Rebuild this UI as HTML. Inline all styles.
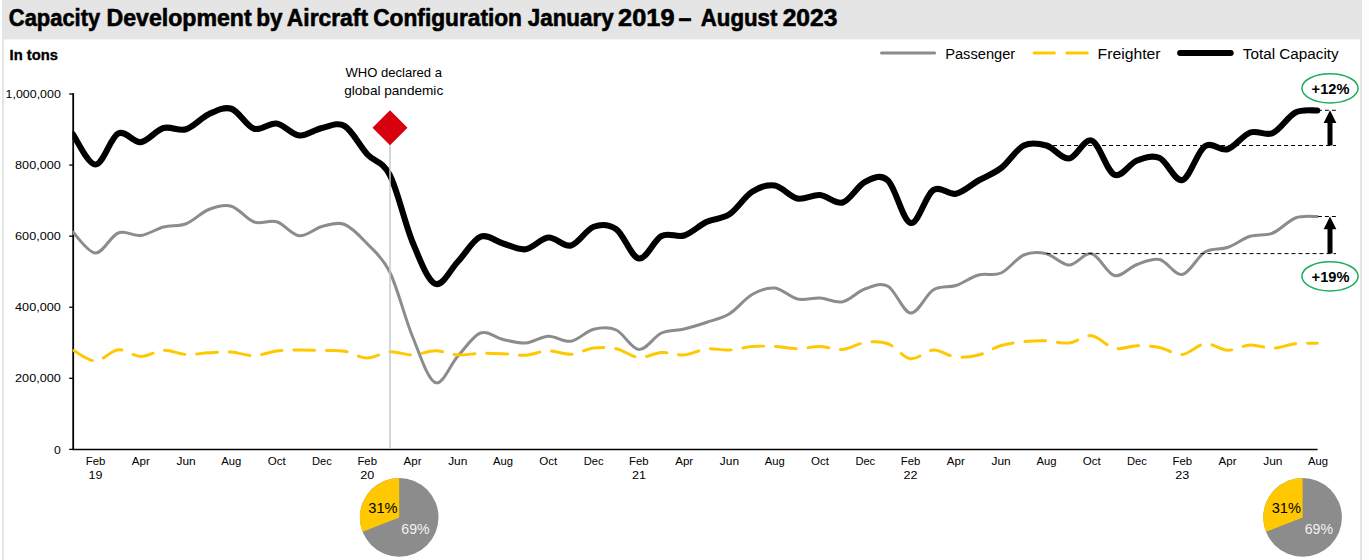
<!DOCTYPE html>
<html lang="en"><head><meta charset="utf-8">
<title>Capacity Development by Aircraft Configuration</title>
<style>
html,body{margin:0;padding:0;background:#fff;}
body{width:1369px;height:560px;overflow:hidden;font-family:"Liberation Sans", sans-serif;}
svg{display:block;}
text{font-family:"Liberation Sans", sans-serif;}
.ax{font-size:11.2px;fill:#000;}
.lg{font-size:14px;fill:#000;}
</style></head><body>
<svg width="1369" height="560" viewBox="0 0 1369 560">
<rect x="0" y="0" width="1369" height="560" fill="#ffffff"/>
<rect x="1362" y="0" width="7" height="560" fill="#fdfdfd"/>
<rect x="2" y="0" width="1360" height="39.4" fill="#e5e5e5"/>
<rect x="2" y="39" width="2" height="521" fill="#e5e5e5"/>
<rect x="1360" y="39" width="2" height="521" fill="#e5e5e5"/>
<g font-size="23.3px" font-weight="bold" fill="#000" stroke="#000" stroke-width="0.6" stroke-linejoin="round">
<text x="8.8" y="25.8" textLength="91.4" lengthAdjust="spacingAndGlyphs">Capacity</text>
<text x="106.5" y="25.8" textLength="145.2" lengthAdjust="spacingAndGlyphs">Development</text>
<text x="256.2" y="25.8" textLength="26.4" lengthAdjust="spacingAndGlyphs">by</text>
<text x="286.8" y="25.8" textLength="81.2" lengthAdjust="spacingAndGlyphs">Aircraft</text>
<text x="373.2" y="25.8" textLength="148.8" lengthAdjust="spacingAndGlyphs">Configuration</text>
<text x="527.7" y="25.8" textLength="86.0" lengthAdjust="spacingAndGlyphs">January</text>
<text x="618.1" y="25.8" textLength="56.4" lengthAdjust="spacingAndGlyphs">2019</text>
<text x="678.6" y="25.8" textLength="13.0" lengthAdjust="spacingAndGlyphs">–</text>
<text x="700.8" y="25.8" textLength="76.6" lengthAdjust="spacingAndGlyphs">August</text>
<text x="782.7" y="25.8" textLength="54.7" lengthAdjust="spacingAndGlyphs">2023</text>
</g>
<text x="9.6" y="59.9" font-size="15px" font-weight="bold" stroke="#000" stroke-width="0.35" textLength="48.4" lengthAdjust="spacingAndGlyphs">In tons</text>
<line x1="881.5" y1="52.9" x2="934.6" y2="52.9" stroke="#8c8c8c" stroke-width="3" stroke-linecap="round"/>
<text class="lg" x="945.2" y="58.8" textLength="70" lengthAdjust="spacingAndGlyphs">Passenger</text>
<line x1="1034" y1="52.9" x2="1054.4" y2="52.9" stroke="#ffc800" stroke-width="3" stroke-linecap="round"/>
<line x1="1066.9" y1="52.9" x2="1087.3" y2="52.9" stroke="#ffc800" stroke-width="3" stroke-linecap="round"/>
<text class="lg" x="1097.6" y="58.8" textLength="63" lengthAdjust="spacingAndGlyphs">Freighter</text>
<line x1="1180.1" y1="53.1" x2="1230.7" y2="53.1" stroke="#000" stroke-width="6" stroke-linecap="round"/>
<text class="lg" x="1242.8" y="58.8" textLength="95.9" lengthAdjust="spacingAndGlyphs">Total Capacity</text>
<text x="393.7" y="76.8" font-size="13px" text-anchor="middle" textLength="96.6" lengthAdjust="spacingAndGlyphs">WHO declared a</text>
<text x="393.7" y="94.6" font-size="13px" text-anchor="middle" textLength="99" lengthAdjust="spacingAndGlyphs">global pandemic</text>
<line x1="69.2" y1="94.00" x2="73.3" y2="94.00" stroke="#000" stroke-width="1.3"/>
<text class="ax" x="60.8" y="98.10" text-anchor="end" textLength="55.2" lengthAdjust="spacingAndGlyphs">1,000,000</text>
<line x1="69.2" y1="165.08" x2="73.3" y2="165.08" stroke="#000" stroke-width="1.3"/>
<text class="ax" x="60.8" y="169.18" text-anchor="end" textLength="45.7" lengthAdjust="spacingAndGlyphs">800,000</text>
<line x1="69.2" y1="236.16" x2="73.3" y2="236.16" stroke="#000" stroke-width="1.3"/>
<text class="ax" x="60.8" y="240.26" text-anchor="end" textLength="45.7" lengthAdjust="spacingAndGlyphs">600,000</text>
<line x1="69.2" y1="307.24" x2="73.3" y2="307.24" stroke="#000" stroke-width="1.3"/>
<text class="ax" x="60.8" y="311.34" text-anchor="end" textLength="45.7" lengthAdjust="spacingAndGlyphs">400,000</text>
<line x1="69.2" y1="378.32" x2="73.3" y2="378.32" stroke="#000" stroke-width="1.3"/>
<text class="ax" x="60.8" y="382.42" text-anchor="end" textLength="45.7" lengthAdjust="spacingAndGlyphs">200,000</text>
<line x1="69.2" y1="449.40" x2="73.3" y2="449.40" stroke="#000" stroke-width="1.3"/>
<text class="ax" x="60.8" y="453.50" text-anchor="end" textLength="6.8" lengthAdjust="spacingAndGlyphs">0</text>
<line x1="73.2" y1="93.3" x2="73.2" y2="450.1" stroke="#000" stroke-width="1.8"/>
<line x1="72.3" y1="449.4" x2="1317.6" y2="449.4" stroke="#000" stroke-width="1.45"/>
<text class="ax" x="95.54" y="465.3" text-anchor="middle" textLength="19.6" lengthAdjust="spacingAndGlyphs">Feb</text>
<text class="ax" x="95.54" y="478.9" text-anchor="middle" textLength="14" lengthAdjust="spacingAndGlyphs">19</text>
<text class="ax" x="140.82" y="465.3" text-anchor="middle" textLength="18.0" lengthAdjust="spacingAndGlyphs">Apr</text>
<text class="ax" x="186.10" y="465.3" text-anchor="middle" textLength="19.2" lengthAdjust="spacingAndGlyphs">Jun</text>
<text class="ax" x="231.38" y="465.3" text-anchor="middle" textLength="20.0" lengthAdjust="spacingAndGlyphs">Aug</text>
<text class="ax" x="276.66" y="465.3" text-anchor="middle" textLength="18.0" lengthAdjust="spacingAndGlyphs">Oct</text>
<text class="ax" x="321.94" y="465.3" text-anchor="middle" textLength="19.8" lengthAdjust="spacingAndGlyphs">Dec</text>
<text class="ax" x="367.22" y="465.3" text-anchor="middle" textLength="19.6" lengthAdjust="spacingAndGlyphs">Feb</text>
<text class="ax" x="367.22" y="478.9" text-anchor="middle" textLength="14" lengthAdjust="spacingAndGlyphs">20</text>
<text class="ax" x="412.50" y="465.3" text-anchor="middle" textLength="18.0" lengthAdjust="spacingAndGlyphs">Apr</text>
<text class="ax" x="457.78" y="465.3" text-anchor="middle" textLength="19.2" lengthAdjust="spacingAndGlyphs">Jun</text>
<text class="ax" x="503.06" y="465.3" text-anchor="middle" textLength="20.0" lengthAdjust="spacingAndGlyphs">Aug</text>
<text class="ax" x="548.34" y="465.3" text-anchor="middle" textLength="18.0" lengthAdjust="spacingAndGlyphs">Oct</text>
<text class="ax" x="593.62" y="465.3" text-anchor="middle" textLength="19.8" lengthAdjust="spacingAndGlyphs">Dec</text>
<text class="ax" x="638.90" y="465.3" text-anchor="middle" textLength="19.6" lengthAdjust="spacingAndGlyphs">Feb</text>
<text class="ax" x="638.90" y="478.9" text-anchor="middle" textLength="14" lengthAdjust="spacingAndGlyphs">21</text>
<text class="ax" x="684.18" y="465.3" text-anchor="middle" textLength="18.0" lengthAdjust="spacingAndGlyphs">Apr</text>
<text class="ax" x="729.46" y="465.3" text-anchor="middle" textLength="19.2" lengthAdjust="spacingAndGlyphs">Jun</text>
<text class="ax" x="774.74" y="465.3" text-anchor="middle" textLength="20.0" lengthAdjust="spacingAndGlyphs">Aug</text>
<text class="ax" x="820.02" y="465.3" text-anchor="middle" textLength="18.0" lengthAdjust="spacingAndGlyphs">Oct</text>
<text class="ax" x="865.30" y="465.3" text-anchor="middle" textLength="19.8" lengthAdjust="spacingAndGlyphs">Dec</text>
<text class="ax" x="910.58" y="465.3" text-anchor="middle" textLength="19.6" lengthAdjust="spacingAndGlyphs">Feb</text>
<text class="ax" x="910.58" y="478.9" text-anchor="middle" textLength="14" lengthAdjust="spacingAndGlyphs">22</text>
<text class="ax" x="955.86" y="465.3" text-anchor="middle" textLength="18.0" lengthAdjust="spacingAndGlyphs">Apr</text>
<text class="ax" x="1001.14" y="465.3" text-anchor="middle" textLength="19.2" lengthAdjust="spacingAndGlyphs">Jun</text>
<text class="ax" x="1046.42" y="465.3" text-anchor="middle" textLength="20.0" lengthAdjust="spacingAndGlyphs">Aug</text>
<text class="ax" x="1091.70" y="465.3" text-anchor="middle" textLength="18.0" lengthAdjust="spacingAndGlyphs">Oct</text>
<text class="ax" x="1136.98" y="465.3" text-anchor="middle" textLength="19.8" lengthAdjust="spacingAndGlyphs">Dec</text>
<text class="ax" x="1182.26" y="465.3" text-anchor="middle" textLength="19.6" lengthAdjust="spacingAndGlyphs">Feb</text>
<text class="ax" x="1182.26" y="478.9" text-anchor="middle" textLength="14" lengthAdjust="spacingAndGlyphs">23</text>
<text class="ax" x="1227.54" y="465.3" text-anchor="middle" textLength="18.0" lengthAdjust="spacingAndGlyphs">Apr</text>
<text class="ax" x="1272.82" y="465.3" text-anchor="middle" textLength="19.2" lengthAdjust="spacingAndGlyphs">Jun</text>
<text class="ax" x="1318.10" y="465.3" text-anchor="middle" textLength="20.0" lengthAdjust="spacingAndGlyphs">Aug</text>
<clipPath id="plot"><rect x="72.4" y="60" width="1260" height="389"/></clipPath>
<g clip-path="url(#plot)">
<path d="M72.90 232.00 C76.67 235.50 87.99 252.83 95.54 253.00 C103.09 253.17 110.63 235.92 118.18 233.00 C125.73 230.08 133.27 236.50 140.82 235.50 C148.37 234.50 155.91 228.96 163.46 227.00 C171.01 225.04 178.55 226.67 186.10 223.75 C193.65 220.83 201.19 212.42 208.74 209.50 C216.29 206.58 223.83 204.17 231.38 206.25 C238.93 208.33 246.47 219.42 254.02 222.00 C261.57 224.58 269.11 219.46 276.66 221.75 C284.21 224.04 291.75 234.96 299.30 235.75 C306.85 236.54 314.39 228.38 321.94 226.50 C329.49 224.62 337.03 221.62 344.58 224.50 C352.13 227.38 359.67 235.79 367.22 243.75 C374.77 251.71 382.31 256.79 389.86 272.25 C397.41 287.71 404.95 318.12 412.50 336.50 C420.05 354.88 427.59 379.21 435.14 382.50 C442.69 385.79 450.23 364.50 457.78 356.25 C465.33 348.00 472.87 335.79 480.42 333.00 C487.97 330.21 495.51 337.83 503.06 339.50 C510.61 341.17 518.15 343.54 525.70 343.00 C533.25 342.46 540.79 336.54 548.34 336.25 C555.89 335.96 563.43 342.42 570.98 341.25 C578.53 340.08 586.07 331.12 593.62 329.25 C601.17 327.38 608.71 326.62 616.26 330.00 C623.81 333.38 631.35 349.00 638.90 349.50 C646.45 350.00 653.99 336.42 661.54 333.00 C669.09 329.58 676.63 330.79 684.18 329.00 C691.73 327.21 699.27 324.79 706.82 322.25 C714.37 319.71 721.91 318.38 729.46 313.75 C737.01 309.12 744.55 298.79 752.10 294.50 C759.65 290.21 767.19 287.25 774.74 288.00 C782.29 288.75 789.83 297.33 797.38 299.00 C804.93 300.67 812.47 297.54 820.02 298.00 C827.57 298.46 835.11 303.29 842.66 301.75 C850.21 300.21 857.75 291.33 865.30 288.75 C872.85 286.17 880.39 282.21 887.94 286.25 C895.49 290.29 903.03 312.38 910.58 313.00 C918.13 313.62 925.67 294.58 933.22 290.00 C940.77 285.42 948.31 288.00 955.86 285.50 C963.41 283.00 970.95 277.08 978.50 275.00 C986.05 272.92 993.59 276.33 1001.14 273.00 C1008.69 269.67 1016.23 258.21 1023.78 255.00 C1031.33 251.79 1038.87 252.08 1046.42 253.75 C1053.97 255.42 1061.51 265.00 1069.06 265.00 C1076.61 265.00 1084.15 252.00 1091.70 253.75 C1099.25 255.50 1106.79 273.71 1114.34 275.50 C1121.89 277.29 1129.43 267.17 1136.98 264.50 C1144.53 261.83 1152.07 257.83 1159.62 259.50 C1167.17 261.17 1174.71 275.75 1182.26 274.50 C1189.81 273.25 1197.35 256.50 1204.90 252.00 C1212.45 247.50 1219.99 250.12 1227.54 247.50 C1235.09 244.88 1242.63 238.67 1250.18 236.25 C1257.73 233.83 1265.27 236.04 1272.82 233.00 C1280.37 229.96 1288.06 220.75 1295.46 218.00 C1302.86 215.25 1313.58 216.75 1317.20 216.50" fill="none" stroke="#8c8c8c" stroke-width="3" stroke-linecap="round" stroke-linejoin="round"/>
<path d="M72.90 350.00 C76.67 351.83 87.99 361.04 95.54 361.00 C103.09 360.96 110.63 350.50 118.18 349.75 C125.73 349.00 133.27 356.42 140.82 356.50 C148.37 356.58 155.91 350.58 163.46 350.25 C171.01 349.92 178.55 354.08 186.10 354.50 C193.65 354.92 201.19 353.17 208.74 352.75 C216.29 352.33 223.83 351.50 231.38 352.00 C238.93 352.50 246.47 355.92 254.02 355.75 C261.57 355.58 269.11 351.96 276.66 351.00 C284.21 350.04 291.75 350.08 299.30 350.00 C306.85 349.92 314.39 350.29 321.94 350.50 C329.49 350.71 337.03 350.00 344.58 351.25 C352.13 352.50 359.67 357.92 367.22 358.00 C374.77 358.08 382.31 352.25 389.86 351.75 C397.41 351.25 404.95 355.17 412.50 355.00 C420.05 354.83 427.59 350.75 435.14 350.75 C442.69 350.75 450.23 354.58 457.78 355.00 C465.33 355.42 472.87 353.46 480.42 353.25 C487.97 353.04 495.51 353.42 503.06 353.75 C510.61 354.08 518.15 355.75 525.70 355.25 C533.25 354.75 540.79 350.92 548.34 350.75 C555.89 350.58 563.43 354.71 570.98 354.25 C578.53 353.79 586.07 348.92 593.62 348.00 C601.17 347.08 608.71 347.17 616.26 348.75 C623.81 350.33 631.35 356.88 638.90 357.50 C646.45 358.12 653.99 352.92 661.54 352.50 C669.09 352.08 676.63 355.60 684.18 355.00 C691.73 354.40 699.27 349.73 706.82 348.90 C714.37 348.07 721.91 350.40 729.46 350.00 C737.01 349.60 744.55 347.08 752.10 346.50 C759.65 345.92 767.19 346.12 774.74 346.50 C782.29 346.88 789.83 348.75 797.38 348.75 C804.93 348.75 812.47 346.38 820.02 346.50 C827.57 346.62 835.11 350.17 842.66 349.50 C850.21 348.83 857.75 343.46 865.30 342.50 C872.85 341.54 880.39 341.04 887.94 343.75 C895.49 346.46 903.03 357.71 910.58 358.75 C918.13 359.79 925.67 350.29 933.22 350.00 C940.77 349.71 948.31 356.17 955.86 357.00 C963.41 357.83 970.95 356.92 978.50 355.00 C986.05 353.08 993.59 347.73 1001.14 345.50 C1008.69 343.27 1016.23 342.39 1023.78 341.60 C1031.33 340.81 1038.87 340.52 1046.42 340.75 C1053.97 340.98 1061.51 343.83 1069.06 343.00 C1076.61 342.17 1084.15 334.88 1091.70 335.75 C1099.25 336.62 1106.79 346.58 1114.34 348.25 C1121.89 349.92 1129.43 345.88 1136.98 345.75 C1144.53 345.62 1152.07 346.04 1159.62 347.50 C1167.17 348.96 1174.71 355.12 1182.26 354.50 C1189.81 353.88 1197.35 344.46 1204.90 343.75 C1212.45 343.04 1219.99 350.04 1227.54 350.25 C1235.09 350.46 1242.63 345.33 1250.18 345.00 C1257.73 344.67 1265.27 348.46 1272.82 348.25 C1280.37 348.04 1288.06 344.58 1295.46 343.75 C1302.86 342.92 1313.58 343.33 1317.20 343.25" fill="none" stroke="#ffc800" stroke-width="2.97" stroke-linecap="round" stroke-linejoin="round" stroke-dasharray="20.8 11.9" stroke-dashoffset="-1.3"/>
<path d="M72.90 134.25 C76.67 139.29 87.99 164.62 95.54 164.50 C103.09 164.38 110.63 137.22 118.18 133.50 C125.73 129.78 133.27 143.07 140.82 142.15 C148.37 141.23 155.91 130.15 163.46 128.00 C171.01 125.85 178.55 131.54 186.10 129.25 C193.65 126.96 201.19 117.67 208.74 114.25 C216.29 110.83 223.83 106.33 231.38 108.75 C238.93 111.17 246.47 126.29 254.02 128.75 C261.57 131.21 269.11 122.38 276.66 123.50 C284.21 124.62 291.75 134.75 299.30 135.50 C306.85 136.25 314.39 129.58 321.94 128.00 C329.49 126.42 337.03 121.62 344.58 126.00 C352.13 130.38 359.67 146.07 367.22 154.25 C374.77 162.43 382.31 160.47 389.86 175.10 C397.41 189.72 404.95 223.89 412.50 242.00 C420.05 260.11 427.59 280.46 435.14 283.75 C442.69 287.04 450.23 269.58 457.78 261.75 C465.33 253.92 472.87 239.79 480.42 236.75 C487.97 233.71 495.51 241.42 503.06 243.50 C510.61 245.58 518.15 250.25 525.70 249.25 C533.25 248.25 540.79 238.12 548.34 237.50 C555.89 236.88 563.43 247.29 570.98 245.50 C578.53 243.71 586.07 229.46 593.62 226.75 C601.17 224.04 608.71 223.96 616.26 229.25 C623.81 234.54 631.35 257.38 638.90 258.50 C646.45 259.62 653.99 239.83 661.54 236.00 C669.09 232.17 676.63 237.88 684.18 235.50 C691.73 233.12 699.27 225.28 706.82 221.75 C714.37 218.22 721.91 219.30 729.46 214.30 C737.01 209.30 744.55 196.55 752.10 191.75 C759.65 186.95 767.19 184.38 774.74 185.50 C782.29 186.62 789.83 196.92 797.38 198.50 C804.93 200.08 812.47 194.33 820.02 195.00 C827.57 195.67 835.11 204.71 842.66 202.50 C850.21 200.29 857.75 185.42 865.30 181.75 C872.85 178.08 880.39 173.62 887.94 180.50 C895.49 187.38 903.03 221.40 910.58 223.00 C918.13 224.60 925.67 194.97 933.22 190.10 C940.77 185.22 948.31 195.35 955.86 193.75 C963.41 192.15 970.95 184.79 978.50 180.50 C986.05 176.21 993.59 173.83 1001.14 168.00 C1008.69 162.17 1016.23 149.25 1023.78 145.50 C1031.33 141.75 1038.87 143.33 1046.42 145.50 C1053.97 147.67 1061.51 159.33 1069.06 158.50 C1076.61 157.67 1084.15 137.79 1091.70 140.50 C1099.25 143.21 1106.79 171.42 1114.34 174.75 C1121.89 178.08 1129.43 163.29 1136.98 160.50 C1144.53 157.71 1152.07 154.75 1159.62 158.00 C1167.17 161.25 1174.71 181.96 1182.26 180.00 C1189.81 178.04 1197.35 151.38 1204.90 146.25 C1212.45 141.12 1219.99 151.54 1227.54 149.25 C1235.09 146.96 1242.63 135.21 1250.18 132.50 C1257.73 129.79 1265.27 136.33 1272.82 133.00 C1280.37 129.67 1288.06 116.25 1295.46 112.50 C1302.86 108.75 1313.58 110.83 1317.20 110.50" fill="none" stroke="#000" stroke-width="6.1" stroke-linecap="round" stroke-linejoin="round"/>
</g>
<g stroke="#000" stroke-width="1" stroke-dasharray="4 3">
<line x1="1053.1" y1="145.5" x2="1336" y2="145.5"/>
<line x1="1046.5" y1="253.6" x2="1336" y2="253.6"/>
<line x1="1317.9" y1="110.3" x2="1336" y2="110.3"/>
<line x1="1317.9" y1="216.5" x2="1336" y2="216.5"/>
</g>
<line x1="390" y1="140" x2="390" y2="449" stroke="#c9c9c9" stroke-width="1.5"/>
<polygon points="390,110.2 407.5,127.7 390,145.2 372.5,127.7" fill="#d8000f"/>
<rect x="1327.5" y="120.3" width="5" height="25.2" fill="#000"/>
<polygon points="1330,110.3 1336.4,123.0 1323.6,123.0" fill="#000"/>
<rect x="1327.5" y="226.5" width="5" height="27.0" fill="#000"/>
<polygon points="1330,216.5 1336.4,229.2 1323.6,229.2" fill="#000"/>
<ellipse cx="1330" cy="88.3" rx="28.1" ry="14.6" fill="#fff" stroke="#1aad5c" stroke-width="1.5"/>
<text x="1330.5" y="93.8" font-size="14.67px" font-weight="bold" text-anchor="middle" textLength="37.8" lengthAdjust="spacingAndGlyphs">+12%</text>
<ellipse cx="1330" cy="276.3" rx="28.1" ry="14.6" fill="#fff" stroke="#1aad5c" stroke-width="1.5"/>
<text x="1330.5" y="281.8" font-size="14.67px" font-weight="bold" text-anchor="middle" textLength="37.8" lengthAdjust="spacingAndGlyphs">+19%</text>
<circle cx="399.2" cy="517.4" r="39.3" fill="#8c8c8c"/>
<path d="M399.20 517.40 L362.66 531.87 A39.3 39.3 0 0 1 399.20 478.10 Z" fill="#ffc800"/>
<text x="368.3" y="512.5" font-size="15px" fill="#000" textLength="29.2" lengthAdjust="spacingAndGlyphs">31%</text>
<text x="401.3" y="533.8" font-size="15px" fill="#f2f2f2" textLength="28.3" lengthAdjust="spacingAndGlyphs">69%</text>
<circle cx="1302.6" cy="517.4" r="39.3" fill="#8c8c8c"/>
<path d="M1302.60 517.40 L1266.06 531.87 A39.3 39.3 0 0 1 1302.60 478.10 Z" fill="#ffc800"/>
<text x="1271.7" y="512.5" font-size="15px" fill="#000" textLength="29.2" lengthAdjust="spacingAndGlyphs">31%</text>
<text x="1304.7" y="533.8" font-size="15px" fill="#f2f2f2" textLength="28.3" lengthAdjust="spacingAndGlyphs">69%</text>
</svg>
</body></html>
